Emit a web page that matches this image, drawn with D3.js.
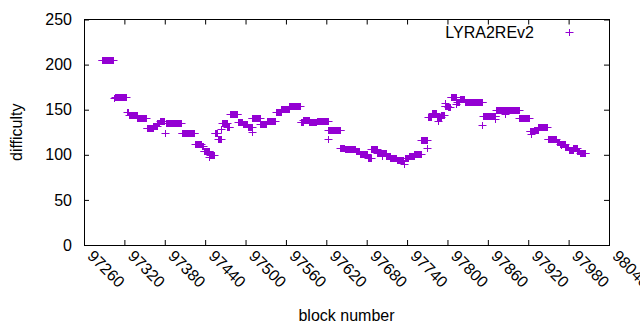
<!DOCTYPE html>
<html>
<head>
<meta charset="utf-8">
<script src="https://cdn.jsdelivr.net/npm/d3@7"></script>
<style>
  body { margin: 0; background: #fff; }
  text { font-family: "Liberation Sans", Arial, sans-serif; }
</style>
</head>
<body>
<div id="chart"></div>
<script>
// runs of blocks that share one difficulty value
var runStart = [97286, 97305, 97306, 97324, 97327, 97339, 97353, 97363, 97369, 97373,
  97380, 97382, 97405, 97425, 97435, 97438, 97446, 97447, 97454, 97459,
  97464, 97465, 97473, 97477, 97489, 97496, 97503, 97510, 97509, 97522,
  97532, 97545, 97553, 97565, 97582, 97586, 97595, 97606, 97622, 97623,
  97641, 97648, 97664, 97670, 97682, 97687, 97696, 97703, 97703, 97709,
  97715, 97725, 97736, 97737, 97743, 97751, 97761, 97770, 97771, 97777,
  97786, 97784, 97791, 97797, 97796, 97801, 97805, 97813, 97814, 97818,
  97826, 97852, 97853, 97870, 97872, 97885, 97907, 97922, 97924, 97929,
  97935, 97949, 97956, 97962, 97967, 97968, 97975, 97980, 97987, 97993,
  97997];
var runEnd = [97303, 97305, 97322, 97326, 97338, 97352, 97362, 97368, 97372, 97379,
  97380, 97404, 97424, 97434, 97437, 97446, 97446, 97453, 97458, 97463,
  97464, 97472, 97476, 97488, 97495, 97502, 97509, 97510, 97521, 97531,
  97544, 97552, 97564, 97581, 97585, 97594, 97605, 97622, 97622, 97641,
  97647, 97663, 97669, 97681, 97686, 97695, 97702, 97703, 97708, 97714,
  97724, 97734, 97736, 97742, 97750, 97760, 97769, 97770, 97776, 97783,
  97786, 97790, 97795, 97797, 97800, 97804, 97813, 97813, 97817, 97825,
  97852, 97852, 97871, 97870, 97906, 97885, 97921, 97928, 97924, 97934,
  97948, 97955, 97961, 97966, 97974, 97968, 97979, 97986, 97992, 97996,
  98005];
var runValue = [205, 163, 164.5, 148, 144, 141, 130, 132, 135, 138,
  124, 135, 124, 112.5, 110, 104, 97.5, 100, 124, 118,
  129, 135, 131, 145, 136, 134, 131, 125, 141, 134,
  137, 148, 150.5, 154.5, 136.5, 139, 136, 138, 118, 127,
  108, 106, 104, 101, 96, 106, 102, 99, 101.5, 98.5,
  97, 94, 90, 97, 99, 100.5, 116, 108, 142, 146.5,
  138, 142, 144.5, 157, 154, 153, 164, 156.5, 158.5, 162,
  158, 133, 143, 140, 150, 145, 141, 126, 123, 128,
  131, 118, 117, 114.5, 111.5, 110.5, 109, 105, 107, 104,
  102.5];

var xTickValues = [97260, 97320, 97380, 97440, 97500, 97560, 97620,
  97680, 97740, 97800, 97860, 97920, 97980, 98040];
var yTickValues = [0, 50, 100, 150, 200, 250];
var seriesName = "LYRA2REv2";

var W = 640, H = 330,
    plotLeft = 84, plotRight = 609, plotTop = 19.5, plotBottom = 245;
var color = "#9400d3";

var svg = d3.select("#chart").append("svg")
    .attr("width", W)
    .attr("height", H);

var x = d3.scaleLinear().domain([97260, 98040]).range([plotLeft, plotRight]);
var y = d3.scaleLinear().domain([0, 250]).range([plotBottom, plotTop]);

// expand runs into one point per block
var points = [];
runStart.forEach(function(s, i){
  d3.range(s, runEnd[i] + 1).forEach(function(b){
    points.push({block: b, value: runValue[i]});
  });
});

// "+" marker snapped to the pixel grid so it stays crisp
function plus(px, py){
  px = Math.round(px) + 0.5;
  py = Math.round(py) + 0.5;
  return "M" + (px - 4) + "," + py + "H" + (px + 4) +
         "M" + px + "," + (py - 3.5) + "V" + (py + 3.5);
}

//
// axes
//
var gx = svg.append("g")
    .attr("transform", "translate(0," + plotBottom + ")")
    .call(d3.axisBottom(x).tickValues(xTickValues).tickSize(-5).tickFormat(d3.format("d")));
gx.selectAll("text")
    .attr("x", 0).attr("y", 0).attr("dy", 0)
    .attr("text-anchor", "start")
    .attr("transform", "translate(2,12) rotate(45)");

svg.append("g")
    .attr("transform", "translate(0," + plotTop + ")")
    .call(d3.axisTop(x).tickValues(xTickValues).tickSize(-5).tickFormat(""));

svg.append("g")
    .attr("transform", "translate(" + plotLeft + ",0)")
    .call(d3.axisLeft(y).tickValues(yTickValues).tickSize(-5).tickPadding(12));

svg.append("g")
    .attr("transform", "translate(" + plotRight + ",0)")
    .call(d3.axisRight(y).tickValues(yTickValues).tickSize(-5).tickFormat(""));

svg.selectAll(".domain").remove();
svg.selectAll(".tick line").attr("stroke", "#000");
svg.selectAll(".tick text")
    .attr("font-size", "16px")
    .attr("font-family", '"Liberation Sans", Arial, sans-serif')
    .attr("fill", "#000");

svg.append("rect")
    .attr("x", plotLeft)
    .attr("y", plotTop)
    .attr("width", plotRight - plotLeft)
    .attr("height", plotBottom - plotTop)
    .attr("fill", "none")
    .attr("stroke", "#000")
    .attr("shape-rendering", "crispEdges");

//
// points
//
svg.append("g")
  .selectAll("path")
  .data(points)
  .enter().append("path")
    .attr("d", function(d){ return plus(x(d.block), y(d.value)); })
    .attr("stroke", color)
    .attr("stroke-width", 1)
    .attr("fill", "none");

//
// labels and key
//
svg.append("text")
    .text("block number")
    .attr("x", (plotLeft + plotRight) / 2)
    .attr("y", 321)
    .attr("text-anchor", "middle")
    .attr("font-size", "16px");

svg.append("text")
    .text("difficulty")
    .attr("transform", "translate(22," + ((plotTop + plotBottom) / 2) + ") rotate(-90)")
    .attr("text-anchor", "middle")
    .attr("font-size", "16px");

svg.append("text")
    .text(seriesName)
    .attr("x", 534)
    .attr("y", 32)
    .attr("dy", "0.35em")
    .attr("text-anchor", "end")
    .attr("font-size", "16px");

svg.append("path")
    .attr("d", plus(569, 32))
    .attr("stroke", color)
    .attr("stroke-width", 1);
</script>
</body>
</html>
